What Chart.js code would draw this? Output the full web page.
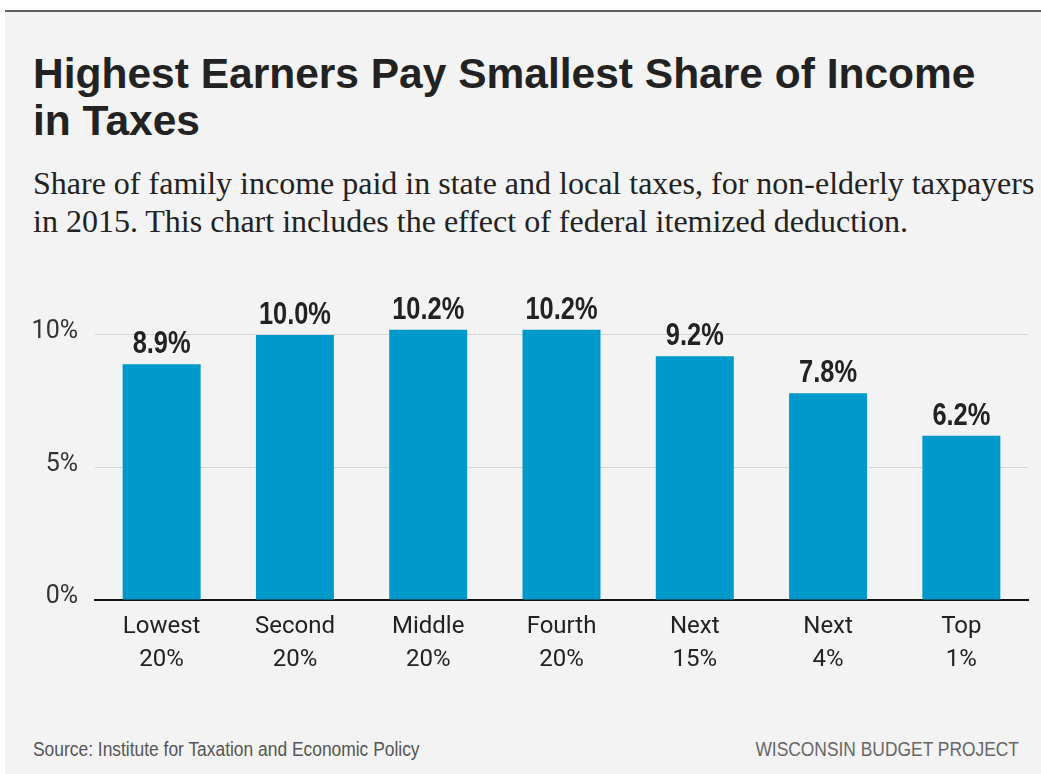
<!DOCTYPE html>
<html>
<head>
<meta charset="utf-8">
<script src="https://cdn.jsdelivr.net/npm/chart.js@4/dist/chart.umd.min.js"></script>
<style>
  html, body { margin: 0; padding: 0; background: #fff; }
  body { width: 1041px; height: 774px; position: relative; overflow: hidden; }
  .panel {
    position: absolute; left: 5px; top: 10px; right: 0; bottom: 0;
    background: #f3f3f3; border-top: 2px solid #5e5e5e;
  }
  h1 {
    position: absolute; left: 33px; top: 50px; margin: 0;
    font: bold 42.5px/47px "Liberation Sans", Arial, sans-serif;
    color: #222; white-space: nowrap;
  }
  .sub {
    position: absolute; left: 33px; top: 164px; margin: 0;
    font: 32px/38px "Liberation Serif", "Times New Roman", serif;
    color: #222; white-space: nowrap;
  }
  .wrap { position: absolute; left: 0; top: 270px; width: 1041px; height: 430px; }
  .foot {
    position: absolute; top: 738px;
    font: 20px "Liberation Sans", Arial, sans-serif;
    color: #555; white-space: nowrap;
    transform: scaleX(0.87);
  }
  .src { left: 33px; transform-origin: left center; }
  .org { right: 22px; color: #666; transform-origin: right center; }
</style>
</head>
<body>
<div class="panel"></div>
<h1>Highest Earners Pay Smallest Share of Income<br>in Taxes</h1>
<p class="sub">Share of family income paid in state and local taxes, for non-elderly taxpayers<br>in 2015. This chart includes the effect of federal itemized deduction.</p>
<div class="wrap"><canvas id="taxChart"></canvas></div>
<div class="foot src">Source: Institute for Taxation and Economic Policy</div>
<div class="foot org">WISCONSIN BUDGET PROJECT</div>

<script>
// income groups, two-line labels
const groupNames = ['Lowest', 'Second', 'Middle', 'Fourth', 'Next', 'Next', 'Top'];
const groupShares = ['20%', '20%', '20%', '20%', '15%', '4%', '1%'];
// state and local taxes as % of family income
const taxShare = [8.9, 10.0, 10.2, 10.2, 9.2, 7.8, 6.2];
const yTicks = [0, 5, 10];

const tickFamily = 'Roboto, "Liberation Sans", sans-serif';

// value above each bar, squeezed a bit to look condensed
const barLabels = {
  id: 'barLabels',
  afterDatasetsDraw(chart) {
    const ctx = chart.ctx;
    const meta = chart.getDatasetMeta(0);
    ctx.save();
    ctx.font = 'bold 31px "Liberation Sans", Arial, sans-serif';
    ctx.fillStyle = '#222';
    ctx.textAlign = 'center';
    ctx.textBaseline = 'alphabetic';
    meta.data.forEach((bar, i) => {
      ctx.save();
      ctx.translate(bar.x, bar.y - 11);
      ctx.scale(0.82, 1);
      ctx.fillText(taxShare[i].toFixed(1) + '%', 0, 0);
      ctx.restore();
    });
    ctx.restore();
  }
};

new Chart(document.getElementById('taxChart'), {
  type: 'bar',
  data: {
    labels: groupNames.map((n, i) => [n, groupShares[i]]),
    datasets: [{
      data: taxShare,
      backgroundColor: '#0099cc',
      categoryPercentage: 1,
      barPercentage: 0.585
    }]
  },
  options: {
    responsive: true,
    maintainAspectRatio: false,
    animation: false,
    layout: { padding: { top: 12, right: 13, left: 0, bottom: 0 } },
    plugins: {
      legend: { display: false },
      tooltip: { enabled: false }
    },
    scales: {
      x: {
        grid: { display: false },
        border: { display: true, color: '#111', width: 2 },
        ticks: {
          color: '#222',
          font: { family: tickFamily, size: 24, lineHeight: 1.375 },
          padding: 2,
          maxRotation: 0
        },
        afterFit(scale) { scale.height = 100; }
      },
      y: {
        min: 0,
        max: 12,
        border: { display: false },
        grid: {
          drawTicks: false,
          color: ctx => ctx.tick && ctx.tick.value === 0 ? 'rgba(0,0,0,0)' : '#d6d6d6',
          lineWidth: 1
        },
        ticks: {
          color: '#333',
          font: { family: tickFamily, size: 25 },
          padding: 17,
          labelOffset: -3,
          callback: v => v + '%'
        },
        afterBuildTicks(scale) {
          scale.ticks = yTicks.map(v => ({ value: v }));
        },
        afterFit(scale) {
          scale.width = 95;
          scale.paddingTop = 0;
          scale.paddingBottom = 0;
        }
      }
    }
  },
  plugins: [barLabels]
});
</script>
</body>
</html>
